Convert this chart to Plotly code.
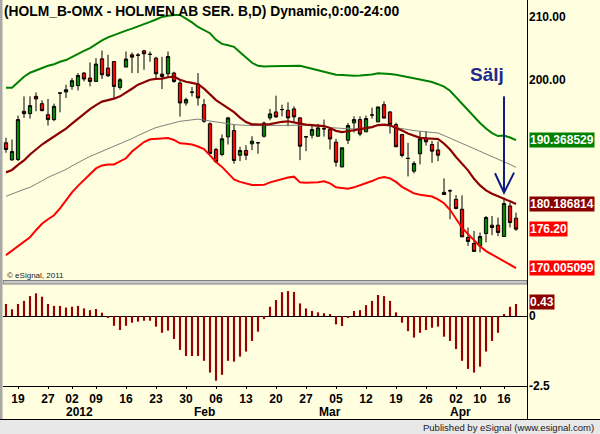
import plotly.graph_objects as go

# ---------------- data ----------------
opens = [189.95, 187.22, 187.30, 194.97, 194.60, 197.35, 196.19, 194.44, 193.65, 197.89,
         198.05, 198.94, 199.05, 201.06, 200.27, 199.73, 203.33, 201.86, 202.90, 198.78,
         202.02, 203.97, 203.95, 204.60, 204.08, 203.44, 200.90, 200.95, 201.06, 199.48,
         196.30, 198.05, 199.32, 196.03, 192.97, 188.89, 188.10, 190.90, 191.90, 187.98,
         188.73, 189.79, 189.98, 191.00, 193.92, 194.87, 195.26, 195.13, 195.35, 193.92,
         190.92, 191.16, 191.00, 192.19, 192.06, 190.05, 186.11, 190.37, 193.13, 193.65,
         191.70, 194.38, 193.29, 196.03, 194.87, 192.86, 191.27, 187.48, 185.44, 188.21,
         190.71, 189.68, 188.81, 182.06, 182.32, 180.95, 179.37, 174.87, 173.92, 173.54,
         175.51, 176.83, 176.83, 175.03, 179.89, 177.94]
highs = [190.75, 190.48, 194.29, 197.35, 197.35, 197.98, 196.71, 196.94, 196.19, 197.90,
         199.21, 200.27, 201.06, 201.22, 202.75, 203.44, 204.65, 203.97, 202.90, 200.27,
         204.49, 204.33, 204.24, 204.76, 204.49, 203.65, 203.65, 204.49, 201.27, 200.00,
         197.14, 198.84, 201.06, 196.94, 193.22, 189.16, 191.27, 194.08, 192.86, 189.32,
         189.57, 191.00, 189.98, 193.33, 195.35, 197.46, 196.03, 196.40, 195.76, 194.08,
         190.95, 192.86, 192.97, 193.65, 192.38, 190.59, 189.16, 193.13, 194.17, 194.17,
         194.29, 195.56, 195.67, 196.56, 194.97, 193.17, 191.27, 189.95, 187.03, 191.79,
         191.83, 190.24, 190.16, 184.29, 182.54, 181.63, 181.59, 176.46, 175.92, 175.67,
         178.30, 178.30, 178.05, 181.22, 180.43, 178.84]
lows = [188.37, 187.14, 187.03, 193.92, 193.81, 194.97, 194.97, 192.70, 193.38, 194.81,
        197.10, 198.41, 198.30, 199.73, 198.94, 199.73, 200.11, 200.43, 196.94, 198.41,
        202.02, 201.06, 201.06, 201.59, 202.86, 200.27, 198.52, 200.32, 199.52, 194.13,
        195.87, 197.35, 195.87, 193.13, 188.25, 186.78, 187.83, 189.68, 186.62, 187.03,
        187.19, 188.78, 188.21, 190.79, 193.54, 193.92, 194.17, 192.59, 193.13, 187.19,
        188.62, 190.63, 191.00, 190.95, 188.89, 186.14, 186.08, 189.76, 191.59, 191.00,
        191.70, 193.81, 193.22, 193.81, 191.43, 189.32, 187.62, 184.60, 185.08, 186.51,
        189.50, 186.78, 187.03, 181.70, 177.78, 179.37, 174.97, 173.54, 172.65, 172.49,
        174.08, 175.24, 175.08, 175.03, 176.46, 175.92]
closes = [188.89, 188.57, 193.65, 194.60, 195.87, 196.94, 195.08, 193.65, 195.76, 197.87,
          198.41, 199.84, 200.68, 200.11, 199.73, 202.49, 200.79, 200.63, 198.94, 200.00,
          203.29, 203.60, 203.90, 204.13, 204.02, 200.95, 200.52, 203.70, 199.73, 196.30,
          196.83, 198.00, 197.10, 193.38, 188.25, 186.94, 190.59, 193.92, 187.14, 188.73,
          187.98, 190.21, 189.95, 193.10, 194.56, 194.08, 195.24, 193.92, 194.08, 189.41,
          190.90, 192.06, 192.33, 192.17, 190.56, 186.87, 189.16, 192.70, 193.65, 191.35,
          193.81, 194.37, 195.67, 193.89, 192.86, 189.32, 187.94, 187.46, 186.67, 190.60,
          190.11, 188.62, 187.98, 181.71, 182.30, 179.48, 174.97, 174.24, 172.65, 175.03,
          178.05, 176.46, 175.67, 180.27, 177.25, 176.20]

upper_band = [198.73, 198.73, 199.60, 200.48, 201.11, 201.51, 201.94, 202.22, 202.46, 202.86,
              203.13, 203.65, 204.13, 204.60, 205.03, 205.71, 206.27, 206.75, 207.14, 207.46,
              207.83, 208.14, 208.46, 208.78, 209.21, 209.60, 210.00, 210.19, 210.32, 210.32,
              209.76, 209.13, 208.41, 207.86, 207.41, 206.35, 205.71, 205.48, 205.24, 204.37,
              203.49, 202.70, 202.22, 202.11, 202.14, 202.17, 202.22, 202.22, 202.22, 202.22,
              201.98, 201.75, 201.51, 201.27, 201.03, 200.79, 200.75, 200.68, 200.63, 200.67,
              200.75, 200.84, 201.03, 201.03, 200.92, 200.79, 200.63, 200.43, 200.27, 200.05,
              199.84, 199.63, 199.29, 198.89, 198.25, 197.22, 196.19, 195.08, 194.05, 193.10,
              192.22, 191.51, 191.03, 191.11, 190.79, 190.368529]
mid_line = [185.24, 185.63, 186.43, 187.14, 188.10, 188.97, 189.68, 190.32, 190.95, 191.59,
            192.22, 193.02, 193.81, 194.60, 195.32, 195.95, 196.51, 196.75, 196.98, 197.35,
            198.02, 198.57, 199.21, 199.60, 200.00, 200.13, 200.19, 200.40, 200.48, 200.00,
            199.68, 199.49, 199.29, 198.57, 197.62, 196.75, 196.11, 195.48, 194.84, 193.97,
            193.25, 192.89, 192.86, 192.86, 192.94, 193.17, 193.30, 193.38, 193.25, 193.02,
            192.86, 192.76, 192.70, 192.62, 192.30, 191.86, 191.67, 191.75, 191.95, 192.14,
            192.30, 192.46, 192.78, 192.86, 192.75, 192.38, 191.90, 191.43, 191.03, 190.75,
            190.67, 190.63, 190.56, 189.84, 188.89, 187.70, 186.67, 185.56, 184.21, 183.17,
            182.38, 181.83, 181.43, 181.06, 180.63, 180.186814]
gray_line = [181.43, 181.83, 182.14, 182.54, 182.86, 183.33, 183.89, 184.44, 184.84, 185.19,
             185.71, 186.27, 186.83, 187.30, 187.78, 188.17, 188.57, 188.97, 189.37, 189.76,
             190.16, 190.63, 191.11, 191.59, 191.98, 192.38, 192.62, 192.89, 193.13, 193.38,
             193.49, 193.62, 193.73, 193.57, 193.41, 193.30, 193.17, 193.02, 192.86, 192.78,
             192.70, 192.70, 192.70, 192.70, 192.70, 192.70, 192.70, 192.73, 192.78, 192.81,
             192.75, 192.67, 192.62, 192.51, 192.38, 192.29, 192.22, 192.19, 192.17, 192.22,
             192.32, 192.54, 192.70, 192.70, 192.62, 192.38, 192.19, 192.06, 191.90, 191.79,
             191.71, 191.62, 191.51, 191.11, 190.67, 190.27, 189.87, 189.44, 189.02, 188.60,
             188.17, 187.78, 187.38, 186.98, 186.51, 186.03]
lower_band = [172.06, 172.78, 173.49, 174.13, 174.92, 176.03, 177.06, 177.78, 178.41, 179.52,
              180.79, 182.06, 183.10, 183.97, 184.92, 185.87, 186.35, 186.51, 186.51, 186.98,
              187.49, 188.57, 189.29, 190.08, 190.52, 190.56, 190.59, 190.71, 190.40, 189.87,
              189.81, 189.68, 189.37, 188.97, 187.94, 186.90, 186.11, 185.16, 184.13, 183.73,
              183.44, 183.25, 183.22, 183.25, 183.65, 183.92, 184.13, 184.41, 184.56, 183.65,
              183.60, 183.60, 183.68, 183.81, 183.49, 182.86, 182.70, 182.65, 182.86, 183.17,
              183.49, 183.86, 184.29, 184.52, 184.29, 183.73, 182.94, 182.38, 181.90, 181.67,
              181.54, 181.40, 180.95, 180.32, 179.29, 177.94, 176.43, 175.40, 174.44, 173.49,
              172.70, 172.14, 171.67, 171.11, 170.48, 170.005099]
osc = [0.43, 0.24, 0.43, 0.54, 0.71, 0.81, 0.69, 0.43, 0.36, 0.36,
       0.30, 0.33, 0.36, 0.27, 0.21, 0.25, 0.12, -0.05, -0.35, -0.50,
       -0.35, -0.24, -0.20, -0.17, -0.17, -0.38, -0.60, -0.52, -0.82, -1.21,
       -1.43, -1.43, -1.43, -1.60, -2.02, -2.31, -2.10, -1.60, -1.63, -1.45,
       -1.27, -0.89, -0.56, -0.11, 0.33, 0.57, 0.85, 0.89, 0.86, 0.45,
       0.27, 0.18, 0.13, 0.10, 0.05, -0.30, -0.36, -0.05, 0.18, 0.21,
       0.39, 0.54, 0.75, 0.71, 0.54, 0.13, -0.24, -0.54, -0.77, -0.60,
       -0.50, -0.42, -0.38, -0.74, -0.89, -1.18, -1.60, -1.89, -2.02, -1.81,
       -1.27, -0.89, -0.60, 0.06, 0.33, 0.43]

# trading-day index of each date tick and its day label
tick_pos = [2, 7, 11, 15, 20, 25, 30, 35, 40, 45, 50, 55, 60, 65, 70, 75, 79, 83]
tick_days = ["19", "27", "02", "09", "16", "23", "30", "06", "13", "20",
             "27", "05", "12", "19", "26", "02", "10", "16"]
# month / year captions and where they sit along the trading-day axis
month_text = ["2012", "Feb", "Mar", "Apr"]
month_pos = [12.3, 33.0, 54.0, 75.8]

price_ticks = [200, 210]
osc_ticks = [-2.5, 0]
osc_tick_text = ["-2.5", "0"]

# ---------------- figure ----------------
W, H = 600, 434
def fx(px):
    return px / W
def fy(py):
    return 1 - py / H

xs = list(range(len(closes)))
BG = "#FFFFE0"
FONT = "Liberation Sans, Arial, sans-serif"

fig = go.Figure()
fig.add_trace(go.Scatter(x=xs, y=lower_band, mode="lines",
                         line=dict(color="#FF0000", width=2), yaxis="y", hoverinfo="skip"))
fig.add_trace(go.Scatter(x=xs, y=gray_line, mode="lines",
                         line=dict(color="#7F7F7F", width=1), yaxis="y", hoverinfo="skip"))
fig.add_trace(go.Scatter(x=xs, y=mid_line, mode="lines",
                         line=dict(color="#8B0000", width=2.2), yaxis="y", hoverinfo="skip"))
fig.add_trace(go.Scatter(x=xs, y=upper_band, mode="lines",
                         line=dict(color="#008000", width=2), yaxis="y", hoverinfo="skip"))
fig.add_trace(go.Candlestick(x=xs, open=opens, high=highs, low=lows, close=closes,
                             increasing=dict(fillcolor="#008800", line=dict(color="black", width=1)),
                             decreasing=dict(fillcolor="#FF0000", line=dict(color="black", width=1)),
                             whiskerwidth=0, yaxis="y"))
fig.add_trace(go.Bar(x=xs, y=osc, width=0.36, marker=dict(color="#990000", line=dict(width=0)),
                     yaxis="y2"))

tickfont = dict(family=FONT, size=12, color="black", weight="bold")
fig.update_layout(
    width=W, height=H, margin=dict(l=0, r=0, t=0, b=0, autoexpand=False),
    paper_bgcolor=BG, plot_bgcolor=BG, showlegend=False, boxgap=0.22,
    font=dict(family=FONT, size=12, color="black"),
    xaxis=dict(domain=[fx(3), fx(527)], range=[-0.5, 86.83], anchor="y2", automargin=False,
               showgrid=False, zeroline=False, showline=True, linecolor="black", linewidth=1,
               tickvals=tick_pos, ticktext=tick_days, ticks="outside", ticklen=2,
               tickcolor="black", tickfont=tickfont, rangeslider=dict(visible=False)),
    yaxis=dict(domain=[fy(281), 1], range=[167.94, 212.70], side="right", anchor="x",
               automargin=False, showgrid=False, zeroline=False, showline=False,
               tickvals=price_ticks, ticktext=[f"{v:.2f}" for v in price_ticks], ticks="",
               tickfont=tickfont, ticklabelstandoff=1),
    yaxis2=dict(domain=[fy(386), fy(284)], range=[-2.5, 1.143], side="right", anchor="x",
                automargin=False, showgrid=False, zeroline=True, zerolinecolor="black",
                zerolinewidth=1, showline=False, tickvals=osc_ticks, ticktext=osc_tick_text,
                ticks="", tickfont=tickfont, ticklabelstandoff=1),
)

shapes = [
    # bottom grey strip
    dict(type="rect", xref="paper", yref="paper", x0=0, x1=1, y0=0, y1=fy(420),
         fillcolor="#E8E8E8", line=dict(width=0), layer="below"),
    dict(type="line", xref="paper", yref="paper", x0=0, x1=1, y0=fy(419.5), y1=fy(419.5),
         line=dict(color="black", width=1)),
    # panel divider
    dict(type="rect", xref="paper", yref="paper", x0=fx(3), x1=fx(527), y0=fy(284), y1=fy(280.5),
         fillcolor="#C8C8C8", line=dict(color="#808080", width=1)),
    # left border
    dict(type="rect", xref="paper", yref="paper", x0=0, x1=fx(2.5), y0=fy(419), y1=1,
         fillcolor="#A8A8A8", line=dict(width=0)),
    # right axis separator
    dict(type="line", xref="paper", yref="paper", x0=fx(527.5), x1=fx(527.5), y0=fy(419), y1=1,
         line=dict(color="black", width=1)),
    # sell arrow
    dict(type="line", xref="x", yref="y", x0=83, x1=83, y0=197.35, y1=182.1,
         line=dict(color="#0D1B85", width=2)),
    dict(type="path", xref="x", yref="y",
         path="M 81.5,185.1 L 83,182.0 L 84.67,185.2",
         line=dict(color="#0D1B85", width=2)),
]
fig.update_layout(shapes=shapes)

ann = [
    dict(text="(HOLM_B-OMX - HOLMEN AB SER. B,D) Dynamic,0:00-24:00", xref="paper", yref="paper",
         x=fx(2), y=fy(12), xanchor="left", yanchor="middle", showarrow=False,
         font=dict(family=FONT, size=13.8, color="black", weight="bold")),
    dict(text="© eSignal, 2011", xref="paper", yref="paper", x=fx(5), y=fy(275),
         xanchor="left", yanchor="middle", showarrow=False,
         font=dict(family=FONT, size=8, color="#202020")),
    dict(text="Sälj", xref="x", yref="y", x=80.1, y=200.9, xanchor="center", yanchor="middle",
         showarrow=False, font=dict(family=FONT, size=19, color="#1E2A8C", weight="bold")),
    dict(text="Published by eSignal (www.esignal.com)", xref="paper", yref="paper",
         x=fx(596), y=fy(427), xanchor="right", yanchor="middle", showarrow=False,
         font=dict(family=FONT, size=9.5, color="#202020")),
]
for t, p in zip(month_text, month_pos):
    ann.append(dict(text=t, xref="x", yref="paper", x=p, y=fy(411.5), xanchor="center",
                    yanchor="middle", showarrow=False, font=tickfont, borderpad=0))
labels = [
    (upper_band[-1], f"{upper_band[-1]:.6f}", "#008000", "y", 0),
    (mid_line[-1], f"{mid_line[-1]:.6f}", "#8B0000", "y", 0),
    (closes[-1], f"{closes[-1]:.2f}", "#FF0000", "y", 0),
    (lower_band[-1], f"{lower_band[-1]:.6f}", "#FF0000", "y", 0),
    (osc[-1], f"{osc[-1]:.2f}", "#8B0000", "y2", 2),
]
for val, txt, col, yr, ys in labels:
    ann.append(dict(text=txt, xref="paper", yref=yr, x=fx(528.5), y=val, xanchor="left",
                    yanchor="middle", showarrow=False, bgcolor=col, borderpad=0, yshift=ys,
                    font=dict(family=FONT, size=12, color="white", weight="bold")))
fig.update_layout(annotations=ann)

fig.write_html("out.html")
